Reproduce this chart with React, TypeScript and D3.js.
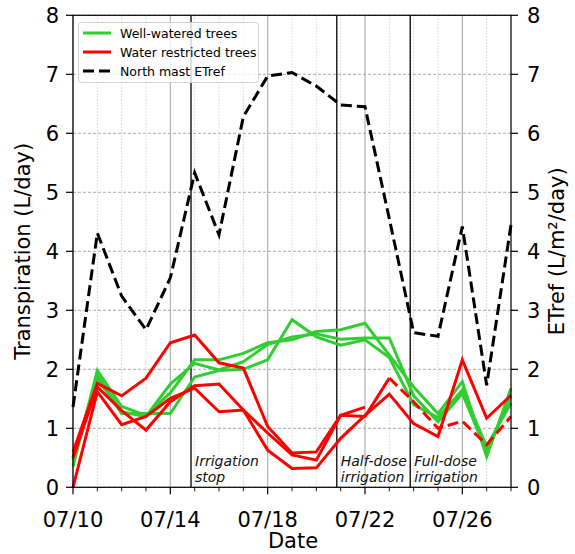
import React from 'react';
import * as d3 from 'd3';

// dates of the daily values (x categories)
const dates = ["07/10","07/11","07/12","07/13","07/14","07/15","07/16","07/17","07/18","07/19",
  "07/20","07/21","07/22","07/23","07/24","07/25","07/26","07/27","07/28"];
const xTicks = ["07/10","07/14","07/18","07/22","07/26"];
const yTicks = [0,1,2,3,4,5,6,7,8];

// well-watered trees, transpiration (L/day)
const green1 = [0.35,1.98,1.37,1.22,1.6,2.16,2.16,2.27,2.45,2.5,2.64,2.67,2.78,2.24,1.7,1.25,1.79,0.52,1.68];
const green2 = [0.45,1.9,1.28,1.2,1.75,2.1,1.99,2.13,2.42,2.55,2.6,2.51,2.53,2.53,1.55,1.11,1.59,0.6,1.55];
const green3 = [0.5,1.85,1.25,1.25,1.25,1.87,1.98,2.0,2.16,2.84,2.55,2.41,2.5,2.2,1.4,1.18,1.65,0.69,1.43];

// water restricted trees (red1 stops on 07/22, red2 goes on dashed from 07/23)
const red1 = [0.6,1.76,1.55,1.85,2.45,2.58,2.11,2.02,1.03,0.58,0.6,1.22,1.36];
const red2 = [0.5,1.7,1.3,0.97,1.45,1.72,1.75,1.31,0.92,0.55,0.46,1.22,1.2,1.85];
const red2Dashed = [1.85,1.45,1.0,1.12,0.72,1.2]; // from 07/23
const red3 = [0.0,1.62,1.06,1.2,1.51,1.68,1.28,1.31,0.63,0.32,0.33,0.83,1.22,1.58,1.08,0.86,2.16,1.17,1.56];

// North mast ETref (L/m2/day)
const etref = [1.36,4.31,3.24,2.67,3.55,5.33,4.28,6.28,6.97,7.03,6.8,6.48,6.45,4.55,2.62,2.56,4.42,1.73,4.45];

// treatment changes (day offset from 07/10)
const events = [
  { day: 4.85, text: ["Irrigation", "stop"] },
  { day: 10.84, text: ["Half-dose", "irrigation"] },
  { day: 13.86, text: ["Full-dose", "irrigation"] },
];

const W = 575, H = 554;
const left = 73, right = 511, top = 15.3, bottom = 487.3;
const GREEN = '#32cd32';
const RED = '#ff0000';
const FONT = 'DejaVu Sans, sans-serif';

export default function App() {
  const x = d3.scaleLinear().domain([0, dates.length - 1]).range([left, right]);
  const y = d3.scaleLinear().domain([0, 8]).range([bottom, top]);

  const line = d3.line<number>().x((d, i) => x(i)).y(d => y(d));
  const lineFrom = (start: number) => d3.line<number>().x((d, i) => x(i + start)).y(d => y(d));

  const greens = [green1, green2, green3];
  const reds = [red1, red2, red3];

  return (
    <svg width={W} height={H} style={{ position: 'absolute', left: 0, top: 0, background: '#fff' }}
      fontFamily={FONT}>
      {/* minor vertical grid */}
      {dates.map((d, i) => i % 4 !== 0 && (
        <line key={'mg' + i} x1={x(i)} x2={x(i)} y1={top} y2={bottom}
          stroke="#c8c8c8" strokeWidth={0.8} strokeDasharray="1.5,1.5" />
      ))}
      {/* major vertical grid */}
      {xTicks.map(t => (
        <line key={'vg' + t} x1={x(dates.indexOf(t))} x2={x(dates.indexOf(t))} y1={top} y2={bottom}
          stroke="#b0b0b0" strokeWidth={1.2} />
      ))}
      {/* horizontal grid */}
      {yTicks.map(v => (
        <line key={'hg' + v} x1={left} x2={right} y1={y(v)} y2={y(v)}
          stroke="#a0a0a0" strokeWidth={0.9} strokeDasharray="3,2" />
      ))}

      {/* event lines */}
      {events.map(e => (
        <g key={e.text[0]}>
          <line x1={x(e.day)} x2={x(e.day)} y1={top} y2={bottom} stroke="#222" strokeWidth={1.5} />
          {e.text.map((t, j) => (
            <text key={t} x={x(e.day) + 4} y={466 + j * 16} fontSize={14} fontStyle="italic" fill="#111">{t}</text>
          ))}
        </g>
      ))}

      {greens.map((g, i) => (
        <path key={'g' + i} d={line(g) || ''} fill="none" stroke={GREEN} strokeWidth={3} strokeLinejoin="miter" />
      ))}
      {reds.map((r, i) => (
        <path key={'r' + i} d={line(r) || ''} fill="none" stroke={RED} strokeWidth={3} />
      ))}
      <path d={lineFrom(13)(red2Dashed) || ''} fill="none" stroke={RED} strokeWidth={3} strokeDasharray="11,5" />
      <path d={line(etref) || ''} fill="none" stroke="#000" strokeWidth={3} strokeDasharray="11,5" />

      {/* frame */}
      <rect x={left} y={top} width={right - left} height={bottom - top} fill="none" stroke="#000" strokeWidth={1.2} />

      {/* y ticks left & right */}
      {yTicks.map(v => (
        <g key={'yt' + v}>
          <line x1={left - 7} x2={left} y1={y(v)} y2={y(v)} stroke="#000" strokeWidth={1.2} />
          <text x={left - 14} y={y(v) + 7.5} fontSize={21} textAnchor="end">{v}</text>
          <line x1={right} x2={right + 7} y1={y(v)} y2={y(v)} stroke="#000" strokeWidth={1.2} />
          <text x={right + 16} y={y(v) + 7.5} fontSize={21}>{v}</text>
        </g>
      ))}
      {/* x ticks */}
      {dates.map((d, i) => (
        <line key={'xt' + i} x1={x(i)} x2={x(i)} y1={bottom} y2={bottom + (i % 4 === 0 ? 7 : 4)}
          stroke="#000" strokeWidth={i % 4 === 0 ? 1.2 : 0.9} />
      ))}
      {xTicks.map(t => (
        <text key={'xl' + t} x={x(dates.indexOf(t))} y={527} fontSize={21} textAnchor="middle">{t}</text>
      ))}

      {/* axis labels */}
      <text x={293} y={548} fontSize={21} textAnchor="middle">Date</text>
      <text transform={`translate(30,${(top + bottom) / 2}) rotate(-90)`} fontSize={21} textAnchor="middle">Transpiration (L/day)</text>
      <text transform={`translate(564,${(top + bottom) / 2}) rotate(-90)`} fontSize={21} textAnchor="middle">ETref (L/m²/day)</text>

      {/* legend */}
      <g>
        <rect x={78.5} y={22.5} width={180} height={60} rx={3} fill="#fff" fillOpacity={0.8} stroke="#d0d0d0" />
        {[
          { label: 'Well-watered trees', color: GREEN, dash: undefined },
          { label: 'Water restricted trees', color: RED, dash: undefined },
          { label: 'North mast ETref', color: '#000', dash: '11,5' },
        ].map((l, i) => (
          <g key={l.label}>
            <line x1={83} x2={111} y1={33 + i * 19} y2={33 + i * 19} stroke={l.color} strokeWidth={3} strokeDasharray={l.dash} />
            <text x={120} y={37.5 + i * 19} fontSize={12.5}>{l.label}</text>
          </g>
        ))}
      </g>
    </svg>
  );
}
